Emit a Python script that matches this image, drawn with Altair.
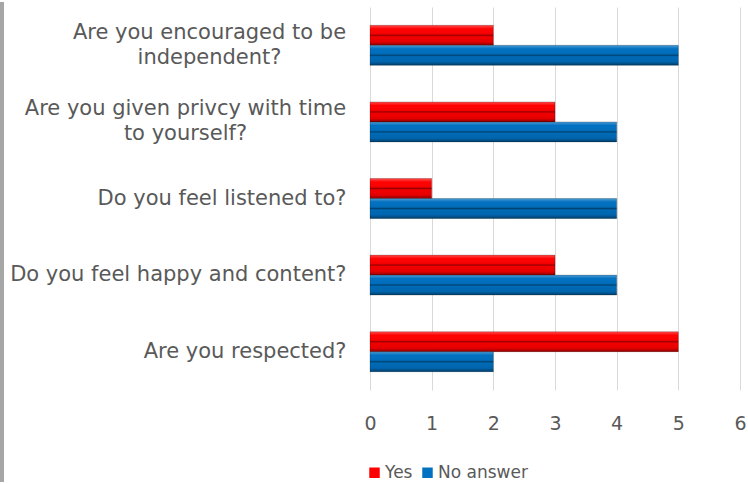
import altair as alt
import pandas as pd

questions = [
    "Are you encouraged to be|independent?",
    "Are you given privcy with time|to yourself?",
    "Do you feel listened to?",
    "Do you feel happy and content?",
    "Are you respected?",
]
series = ["Yes", "No answer"]
yes_values = [2, 3, 1, 3, 5]
no_answer_values = [5, 4, 4, 4, 2]
series_colors = ["#FF0000", "#0070C0"]
x_ticks = [0, 1, 2, 3, 4, 5, 6]

rows = []
for q, yv, nv in zip(questions, yes_values, no_answer_values):
    rows.append({"question": q, "series": "Yes", "value": yv})
    rows.append({"question": q, "series": "No answer", "value": nv})
df = pd.DataFrame(rows)

FONT = "DejaVu Sans"
TEXT = "#595959"
YFS = 21
XFS = 19

label_padding = {
    "condition": [
        {"test": "datum.value == '%s'" % questions[0], "value": 161},
        {"test": "datum.value == '%s'" % questions[1], "value": 185},
    ],
    "value": 24,
}
label_align = {
    "condition": {"test": "indexof(datum.value, '|') >= 0", "value": "center"},
    "value": "right",
}
label_offset = {
    "condition": {"test": "indexof(datum.value, '|') >= 0", "value": -12.5},
    "value": 0,
}

y_enc = alt.Y(
    "question:N",
    sort=questions,
    scale=alt.Scale(paddingInner=0.478, paddingOuter=0.239),
    axis=alt.Axis(
        title=None,
        labelExpr="split(datum.label, '|')",
        labelAlign=label_align,
        labelPadding=label_padding,
        labelOffset=label_offset,
        labelBaseline="middle",
        labelLineHeight=25,
        labelFont=FONT,
        labelFontSize=YFS,
        labelColor=TEXT,
        labelLimit=400,
        ticks=False,
        domain=False,
        grid=False,
    ),
)
x_enc = alt.X(
    "value:Q",
    scale=alt.Scale(domain=[0, 6], nice=False),
    axis=alt.Axis(
        title=None,
        values=x_ticks,
        labelFont=FONT,
        labelFontSize=XFS,
        labelColor=TEXT,
        labelPadding=24,
        labelFlush=False,
        ticks=False,
        domain=False,
        grid=True,
        gridColor="#D9D9D9",
        gridWidth=1,
    ),
)
yoff = alt.YOffset("series:N", sort=series, scale=alt.Scale(paddingInner=0, paddingOuter=0))

base = alt.Chart(df).encode(y=y_enc, x=x_enc, yOffset=yoff)

bars = base.mark_bar().encode(
    color=alt.Color(
        "series:N",
        sort=series,
        scale=alt.Scale(domain=series, range=series_colors),
        legend=alt.Legend(
            title=None,
            orient="none",
            direction="horizontal",
            legendX=-4,
            legendY=457,
            symbolType="square",
            symbolSize=110,
            symbolStrokeWidth=0,
            labelFont=FONT,
            labelFontSize=17,
            labelColor=TEXT,
            columnPadding=6,
            labelOffset=2,
        ),
    )
)

bevel = alt.Gradient(
    gradient="linear",
    x1=0, x2=0, y1=0, y2=1,
    stops=[
        alt.GradientStop(offset=0, color="rgba(255,255,255,0.30)"),
        alt.GradientStop(offset=0.18, color="rgba(255,255,255,0.0)"),
        alt.GradientStop(offset=0.43, color="rgba(0,0,0,0.05)"),
        alt.GradientStop(offset=0.5, color="rgba(0,0,0,0.40)"),
        alt.GradientStop(offset=0.57, color="rgba(0,0,0,0.05)"),
        alt.GradientStop(offset=0.82, color="rgba(0,0,0,0.10)"),
        alt.GradientStop(offset=1, color="rgba(0,0,0,0.45)"),
    ],
)
overlay = base.mark_bar(fill=bevel, stroke="rgba(0,0,0,0.25)", strokeWidth=0.8)

strip = alt.Chart(pd.DataFrame({"a": [0]})).mark_rule(color="#A6A6A6", strokeWidth=4).encode(
    x=alt.value(-368), y=alt.value(-5), y2=alt.value(475)
)

chart = (
    alt.layer(bars, overlay, strip)
    .properties(width=370, height=383, padding={"left": 0, "top": 0, "right": 0, "bottom": 0})
    .configure_view(stroke=None)
)

chart.save("out.html", embed_options={"renderer": "svg", "actions": False})
